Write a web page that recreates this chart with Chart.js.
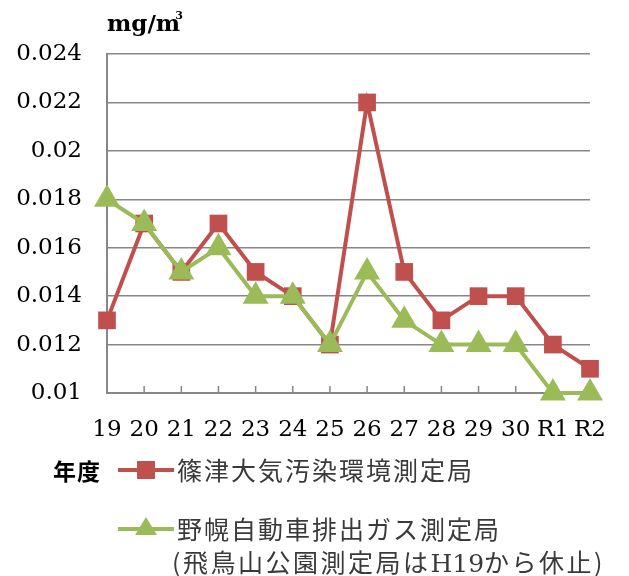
<!DOCTYPE html>
<html>
<head>
<meta charset="utf-8">
<script src="https://cdn.jsdelivr.net/npm/chart.js@4"></script>
<style>
  body { margin: 0; background: #fff; }
  #wrap { position: relative; width: 629px; height: 576px; }
  #unit { position: absolute; left: 107px; top: 9px; font: bold 23px "DejaVu Serif", serif; color: #000; }
  #unit sup { font-size: 11px; position: relative; top: -3px; margin-left: -5px; }
  .leg { position: absolute; font-family: "Noto Sans CJK JP", sans-serif; color: #3a3a3a; font-size: 25px; letter-spacing: 2px; white-space: nowrap; line-height: 30px; }
  .sym { position: absolute; width: 56px; height: 4px; }
  .sq { position: absolute; left: 19px; top: -7px; width: 18px; height: 18px; background: #C0504D; }
  .tri { position: absolute; left: 17px; top: -10px; width: 0; height: 0; border-left: 11px solid transparent; border-right: 11px solid transparent; border-bottom: 18px solid #9BBB59; }
</style>
</head>
<body>
<div id="wrap">
  <canvas id="grafico" width="629" height="576"></canvas>
  <div id="unit">mg/m<sup>3</sup></div>
  <div class="leg" style="left:53px; top:455px; color:#000; font-weight:bold; font-size:23px; letter-spacing:1px;">年度</div>
  <div class="sym" style="left:118px; top:468px; background:#C0504D;"><div class="sq"></div></div>
  <div class="leg" style="left:177px; top:454px;">篠津大気汚染環境測定局</div>
  <div class="sym" style="left:118px; top:527px; background:#9BBB59;"><div class="tri"></div></div>
  <div class="leg" style="left:177px; top:513px;">野幌自動車排出ガス測定局</div>
  <div class="leg" style="left:172px; top:546px; letter-spacing:2.5px;">(飛鳥山公園測定局は<span style="font-family:'DejaVu Serif',serif; letter-spacing:0;">H19</span>から休止)</div>
</div>
<script>
// dados
const anos = ["19", "20", "21", "22", "23", "24", "25", "26", "27", "28", "29", "30", "R1", "R2"];
const shinotsu = [0.013, 0.017, 0.015, 0.017, 0.015, 0.014, 0.012, 0.022, 0.015, 0.013, 0.014, 0.014, 0.012, 0.011];
const nopporo = [0.018, 0.017, 0.015, 0.016, 0.014, 0.014, 0.012, 0.015, 0.013, 0.012, 0.012, 0.012, 0.010, 0.010];
const yMin = 0.01, yMax = 0.024, yStep = 0.002;

const cinza = "#878787";

// marcas do eixo x para dentro (estilo Excel)
const marcasInternas = {
  id: "marcasInternas",
  beforeDatasetsDraw(chart) {
    const ctx = chart.ctx;
    const x = chart.scales.x;
    const bottom = chart.chartArea.bottom;
    ctx.save();
    ctx.strokeStyle = cinza;
    ctx.lineWidth = 1.5;
    for (let i = 1; i < anos.length; i++) {
      const px = x.getPixelForTick(i);
      ctx.beginPath();
      ctx.moveTo(px, bottom);
      ctx.lineTo(px, bottom - 7);
      ctx.stroke();
    }
    ctx.restore();
  }
};

new Chart(document.getElementById("grafico"), {
  type: "line",
  data: {
    labels: anos,
    datasets: [
      { label: "篠津大気汚染環境測定局", data: shinotsu, borderColor: "#C0504D", backgroundColor: "#C0504D",
        borderWidth: 4, pointStyle: "rect", pointRadius: 12.5, pointBorderWidth: 0, fill: false, order: 1, clip: false },
      { label: "野幌自動車排出ガス測定局", data: nopporo, borderColor: "#9BBB59", backgroundColor: "#9BBB59",
        borderWidth: 4, pointStyle: "triangle", pointRadius: 15, pointBorderWidth: 0, fill: false, order: 0, clip: false }
    ]
  },
  options: {
    responsive: false,
    animation: false,
    devicePixelRatio: 1,
    layout: { padding: { left: 0, right: 34, top: 54, bottom: 0 } },
    plugins: { legend: { display: false }, tooltip: { enabled: false } },
    scales: {
      x: {
        offset: false,
        grid: { display: false, drawTicks: false },
        border: { display: true, color: cinza, width: 2 },
        ticks: { color: "#000", font: { family: "DejaVu Serif", size: 23 }, padding: 23, maxRotation: 0, autoSkip: false },
        afterFit: s => { s.height = 183; }
      },
      y: {
        min: yMin, max: yMax,
        grid: { color: cinza, lineWidth: 1.5, drawTicks: false },
        border: { display: true, color: cinza, width: 2 },
        ticks: { stepSize: yStep, color: "#000", padding: 25, font: { family: "DejaVu Serif", size: 23 },
          callback: v => Number(v.toFixed(3)).toString() },
        afterFit: s => { s.width = 107; }
      }
    }
  },
  plugins: [marcasInternas]
});
</script>
</body>
</html>
